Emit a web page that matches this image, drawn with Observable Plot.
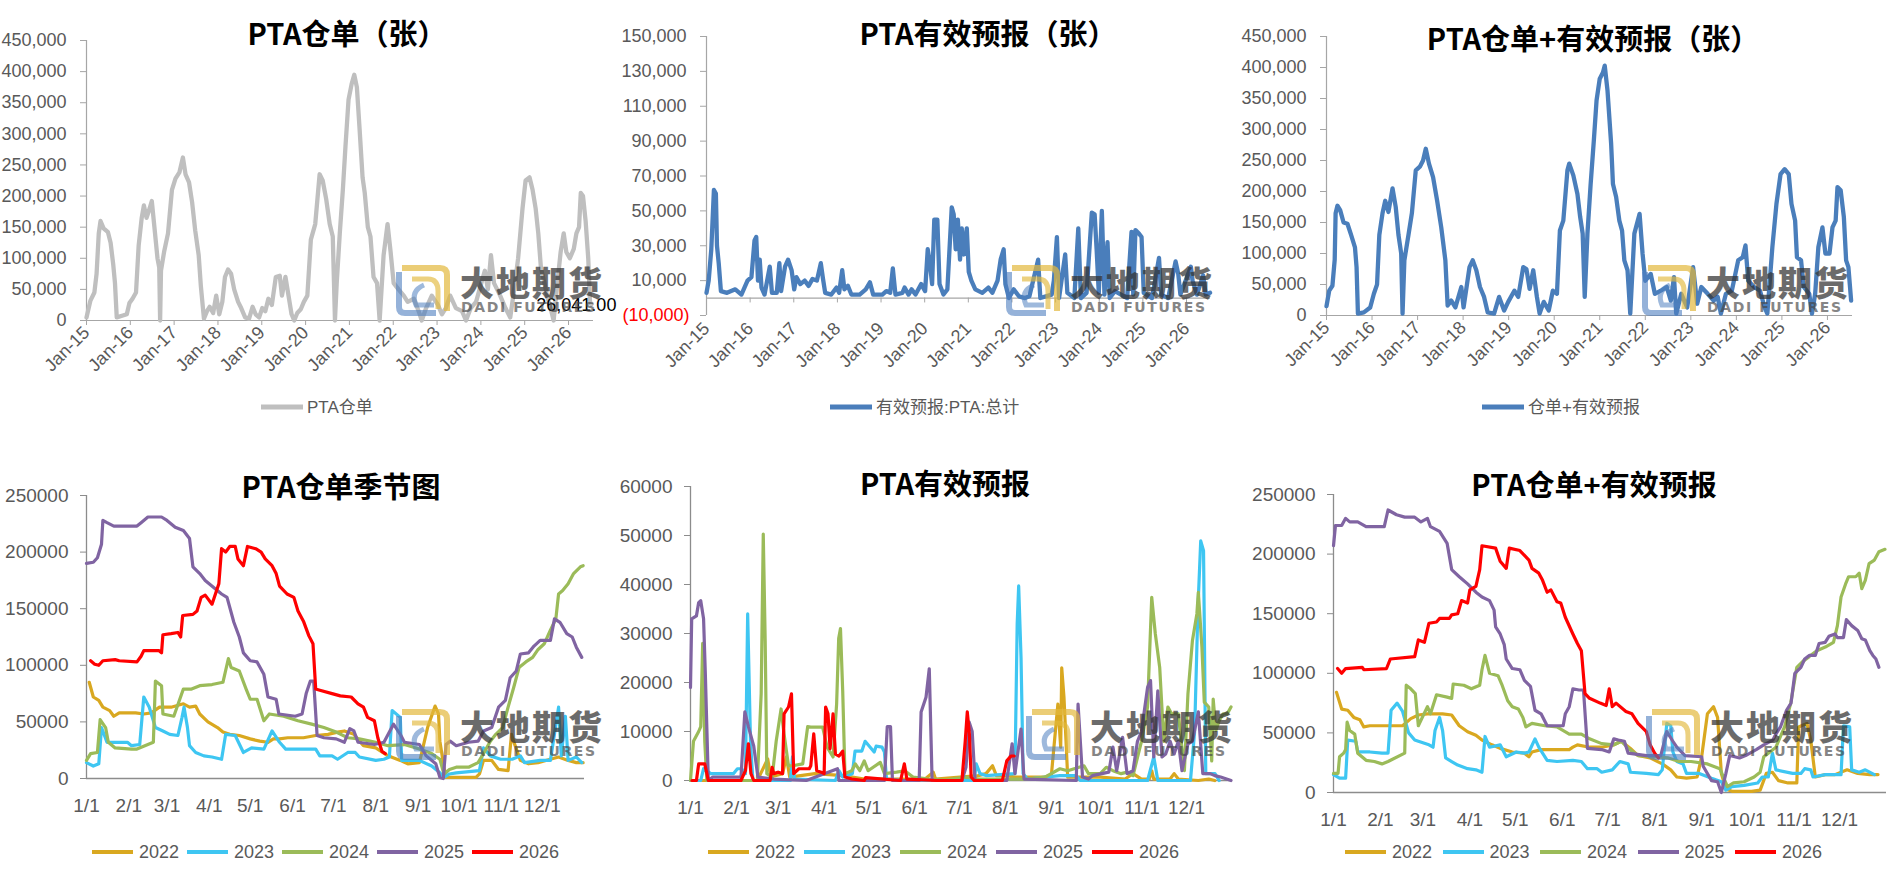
<!DOCTYPE html>
<html><head><meta charset="utf-8">
<script src="https://cdn.jsdelivr.net/npm/d3@7"></script>
<script src="https://cdn.jsdelivr.net/npm/@observablehq/plot@0.6"></script>
<style>
html,body{margin:0;padding:0;background:#fff;width:1887px;height:879px;overflow:hidden;font-family:"Liberation Sans","Noto Sans CJK SC",sans-serif;}
.panel{position:absolute;}
.panel svg{overflow:visible;}
.title{position:absolute;transform:translate(-50%,-50%);font-family:"Noto Sans CJK SC",sans-serif;font-weight:700;color:#000;white-space:nowrap;line-height:1;}
.lg{position:absolute;transform:translateY(-50%);display:flex;align-items:center;white-space:nowrap;color:#595959;font-family:"Liberation Sans","Noto Sans CJK SC",sans-serif;line-height:1;}
.lg span.ln{display:inline-block;}
.wm{position:absolute;pointer-events:none;}
.wm .cn{position:absolute;font-family:"Noto Sans CJK SC",sans-serif;font-weight:900;font-size:34px;letter-spacing:2px;color:#333;opacity:0.72;line-height:1;white-space:nowrap;}
.wm .en{position:absolute;font-family:"DejaVu Sans",sans-serif;font-weight:700;font-size:14px;letter-spacing:1.6px;color:#444;opacity:0.65;line-height:1;white-space:nowrap;}
</style></head><body>
<script>
// ---------------- DATA ----------------
const yearTicks = [2015,2016,2017,2018,2019,2020,2021,2022,2023,2024,2025,2026];
const yearLabels = ["Jan-15","Jan-16","Jan-17","Jan-18","Jan-19","Jan-20","Jan-21","Jan-22","Jan-23","Jan-24","Jan-25","Jan-26"];
const monthDays = [0,31,59,90,120,151,181,212,243,273,304,334];
const monthLabels = ["1/1","2/1","3/1","4/1","5/1","6/1","7/1","8/1","9/1","10/1","11/1","12/1"];
const seasonYears = ["2022","2023","2024","2025","2026"];
const seasonColors = ["#D9A820","#3EC6F2","#9BBB59","#8064A2","#FF0000"];

const wrYTicks = [0,50000,100000,150000,200000,250000,300000,350000,400000,450000];
const fcYTicks = [10000,30000,50000,70000,90000,110000,130000,150000];
const fcNegTicks = [-10000];
const sumYTicks = [0,50000,100000,150000,200000,250000,300000,350000,400000,450000];
const wrSeasonTicks = [0,50000,100000,150000,200000,250000];
const fcSeasonTicks = [0,10000,20000,30000,40000,50000,60000];
const sumSeasonTicks = [0,50000,100000,150000,200000,250000];

// PTA仓单 (history, [decimal year, value])
const wrHist = [[2015.00,5000],[2015.09,32000],[2015.18,45000],[2015.23,75000],[2015.28,140000],[2015.32,160000],[2015.39,148000],[2015.49,142000],[2015.55,125000],[2015.61,90000],[2015.65,60000],[2015.69,5000],[2015.83,8000],[2015.92,10000],[2015.98,28000],[2016.05,35000],[2016.13,45000],[2016.19,120000],[2016.26,165000],[2016.31,185000],[2016.37,165000],[2016.44,180000],[2016.49,192000],[2016.55,150000],[2016.62,100000],[2016.66,85000],[2016.68,0],[2016.70,80000],[2016.77,110000],[2016.86,140000],[2016.95,210000],[2017.03,228000],[2017.12,238000],[2017.20,262000],[2017.26,235000],[2017.34,222000],[2017.41,190000],[2017.48,145000],[2017.56,105000],[2017.61,55000],[2017.68,3000],[2017.75,15000],[2017.81,22000],[2017.89,12000],[2017.96,40000],[2018.03,10000],[2018.10,30000],[2018.16,70000],[2018.23,82000],[2018.30,75000],[2018.37,50000],[2018.46,30000],[2018.53,20000],[2018.62,5000],[2018.71,3000],[2018.79,22000],[2018.86,10000],[2018.94,5000],[2019.01,20000],[2019.08,15000],[2019.15,35000],[2019.23,25000],[2019.32,70000],[2019.41,72000],[2019.46,40000],[2019.54,70000],[2019.61,40000],[2019.68,10000],[2019.74,0],[2019.81,12000],[2019.89,18000],[2019.96,30000],[2020.04,40000],[2020.12,130000],[2020.22,155000],[2020.32,235000],[2020.39,225000],[2020.47,195000],[2020.55,155000],[2020.62,135000],[2020.67,0],[2020.71,60000],[2020.78,140000],[2020.85,210000],[2020.91,280000],[2020.98,355000],[2021.05,380000],[2021.11,395000],[2021.17,375000],[2021.23,310000],[2021.30,230000],[2021.35,205000],[2021.42,150000],[2021.48,135000],[2021.55,70000],[2021.63,60000],[2021.69,0],[2021.78,105000],[2021.87,155000],[2021.94,110000],[2022.01,60000],[2022.12,50000],[2022.24,40000],[2022.33,30000],[2022.47,35000],[2022.58,15000],[2022.65,0],[2022.75,20000],[2022.88,40000],[2023.02,25000],[2023.11,10000],[2023.20,20000],[2023.30,40000],[2023.43,20000],[2023.57,15000],[2023.66,0],[2023.77,20000],[2023.89,30000],[2024.01,60000],[2024.09,80000],[2024.16,50000],[2024.23,105000],[2024.30,60000],[2024.44,40000],[2024.56,20000],[2024.67,5000],[2024.76,50000],[2024.85,100000],[2024.95,180000],[2025.02,225000],[2025.11,230000],[2025.18,210000],[2025.25,180000],[2025.31,140000],[2025.37,85000],[2025.45,60000],[2025.51,40000],[2025.59,20000],[2025.66,0],[2025.73,50000],[2025.82,110000],[2025.89,140000],[2025.95,110000],[2026.03,100000],[2026.12,115000],[2026.18,140000],[2026.24,150000],[2026.28,205000],[2026.33,200000],[2026.39,160000],[2026.45,100000],[2026.49,30000],[2026.52,26041]];

// 有效预报:PTA:总计
const fcHist = [[2015.00,3000],[2015.05,10000],[2015.11,28000],[2015.17,62000],[2015.215,60000],[2015.24,30000],[2015.28,20000],[2015.33,4000],[2015.47,3000],[2015.66,5000],[2015.80,2000],[2015.94,10000],[2016.03,12000],[2016.10,33000],[2016.14,35000],[2016.18,10000],[2016.22,22000],[2016.26,6000],[2016.33,2000],[2016.45,18000],[2016.50,3000],[2016.61,3000],[2016.67,20000],[2016.71,4000],[2016.80,18000],[2016.87,22000],[2016.95,16000],[2017.01,5000],[2017.06,12000],[2017.15,8000],[2017.25,10000],[2017.34,7000],[2017.43,11000],[2017.53,10000],[2017.62,20000],[2017.67,11000],[2017.72,3000],[2017.86,2000],[2017.98,6000],[2018.04,3000],[2018.11,16000],[2018.16,5000],[2018.24,7000],[2018.32,2000],[2018.51,2000],[2018.65,5000],[2018.745,9000],[2018.82,2000],[2019.03,2000],[2019.12,4000],[2019.21,3000],[2019.27,17000],[2019.33,2000],[2019.49,3000],[2019.54,6000],[2019.63,2000],[2019.70,5000],[2019.79,2000],[2019.92,8000],[2020.01,4000],[2020.07,28000],[2020.12,20000],[2020.17,8000],[2020.22,45000],[2020.29,45000],[2020.34,8000],[2020.43,2000],[2020.52,5000],[2020.62,52000],[2020.665,48000],[2020.71,28000],[2020.76,45000],[2020.81,22000],[2020.85,40000],[2020.90,25000],[2020.965,40000],[2021.01,15000],[2021.07,10000],[2021.16,5000],[2021.32,3000],[2021.46,6000],[2021.55,3000],[2021.67,10000],[2021.74,22000],[2021.81,28000],[2021.85,8000],[2021.93,0],[2022.04,5000],[2022.16,1000],[2022.30,0],[2022.40,1000],[2022.60,22000],[2022.65,0],[2022.91,2000],[2022.96,10000],[2023.03,35000],[2023.08,0],[2023.22,25000],[2023.27,3000],[2023.43,0],[2023.52,40000],[2023.58,0],[2023.71,3000],[2023.83,49000],[2023.895,48000],[2023.94,28000],[2023.99,3000],[2024.06,50000],[2024.12,2000],[2024.19,32000],[2024.24,0],[2024.36,4000],[2024.50,2000],[2024.64,0],[2024.74,38000],[2024.78,2000],[2024.83,39000],[2024.91,37000],[2024.97,35000],[2025.02,3000],[2025.21,0],[2025.37,23000],[2025.42,2000],[2025.58,0],[2025.75,21000],[2025.81,14000],[2025.86,2000],[2026.10,18000],[2026.14,10000],[2026.24,2000],[2026.38,13000],[2026.44,2000],[2026.54,3000]];

// 仓单+有效预报
const sumHist = [[2015.00,15000],[2015.06,40000],[2015.13,48000],[2015.18,90000],[2015.20,165000],[2015.24,177000],[2015.30,170000],[2015.375,150000],[2015.46,148000],[2015.54,130000],[2015.625,110000],[2015.66,78000],[2015.69,3000],[2015.82,5000],[2015.96,13000],[2016.04,35000],[2016.11,50000],[2016.16,130000],[2016.23,165000],[2016.29,185000],[2016.36,167000],[2016.45,205000],[2016.52,175000],[2016.58,130000],[2016.64,100000],[2016.67,3000],[2016.71,89000],[2016.80,130000],[2016.875,165000],[2016.96,234000],[2017.05,240000],[2017.12,250000],[2017.18,269000],[2017.25,245000],[2017.34,223000],[2017.43,185000],[2017.52,142000],[2017.61,89000],[2017.66,16000],[2017.74,24000],[2017.83,13000],[2017.96,46000],[2018.01,13000],[2018.14,78000],[2018.21,89000],[2018.29,73000],[2018.37,46000],[2018.46,30000],[2018.54,5000],[2018.68,3000],[2018.79,30000],[2018.90,8000],[2018.99,22000],[2019.125,40000],[2019.21,30000],[2019.32,78000],[2019.39,75000],[2019.46,43000],[2019.54,73000],[2019.62,30000],[2019.68,3000],[2019.77,22000],[2019.88,8000],[2019.97,40000],[2020.06,35000],[2020.125,137000],[2020.20,153000],[2020.29,234000],[2020.33,245000],[2020.42,226000],[2020.51,196000],[2020.57,159000],[2020.625,132000],[2020.67,30000],[2020.73,132000],[2020.80,212000],[2020.87,282000],[2020.93,347000],[2021.00,382000],[2021.07,392000],[2021.11,403000],[2021.17,363000],[2021.25,277000],[2021.29,212000],[2021.36,191000],[2021.43,153000],[2021.49,137000],[2021.54,89000],[2021.61,73000],[2021.67,3000],[2021.76,132000],[2021.875,164000],[2021.94,100000],[2022.00,56000],[2022.12,67000],[2022.21,35000],[2022.34,40000],[2022.47,46000],[2022.56,24000],[2022.63,62000],[2022.68,3000],[2022.79,35000],[2022.92,13000],[2023.05,78000],[2023.14,19000],[2023.23,46000],[2023.37,35000],[2023.50,24000],[2023.59,30000],[2023.66,3000],[2023.77,35000],[2023.90,40000],[2024.04,89000],[2024.14,94000],[2024.20,113000],[2024.26,56000],[2024.39,46000],[2024.52,40000],[2024.62,13000],[2024.68,3000],[2024.79,110000],[2024.88,180000],[2024.97,228000],[2025.06,236000],[2025.15,228000],[2025.21,180000],[2025.29,153000],[2025.33,94000],[2025.42,89000],[2025.48,46000],[2025.60,35000],[2025.66,3000],[2025.73,35000],[2025.80,110000],[2025.89,142000],[2025.955,100000],[2026.045,100000],[2026.11,142000],[2026.18,153000],[2026.22,207000],[2026.29,202000],[2026.36,159000],[2026.41,89000],[2026.46,78000],[2026.52,24000]];

// Seasonal: [day of year, value]
const wr2022 = [[2,85000],[5,72000],[9,69000],[12,63000],[17,60000],[20,55000],[24,58000],[30,58000],[36,58000],[42,57000],[47.5,58000],[53.5,63000],[62,63000],[71,66000],[75.5,63000],[80,64000],[83,57000],[89,50000],[96,45000],[100,41000],[105,39000],[112,38000],[120,35000],[127,33000],[133,32000],[137,35000],[141.5,35000],[147.5,36000],[159,36000],[168,38000],[177,39000],[184,41000],[189,42000],[196,39000],[203,29000],[212,27000],[221,20000],[230,16000],[235.5,13000],[244,14000],[250,45000],[255.5,64000],[258,57000],[259,33000],[262,10000],[263.5,1000],[271,1000],[285.5,1000],[288,4000],[291,16000],[297,16000],[302,8000],[309,7000],[311.5,39000],[313,33000],[318,16000],[324,13000],[331,14000],[340,17000],[346,19000],[353,16000],[359,14000],[364,14000]];
const wr2023 = [[0,14000],[5,11000],[9,13000],[11,45000],[15,32000],[24,32000],[30,32000],[33,29000],[39,30000],[42,72000],[46,63000],[50.5,45000],[56,42000],[61,39000],[67,38000],[70,54000],[71.5,63000],[74,45000],[75.5,29000],[80,23000],[86,20000],[92,19000],[99,17000],[102,39000],[109,38000],[115,23000],[121,27000],[130,26000],[136,42000],[141.5,32000],[146,26000],[159,26000],[168,26000],[171,20000],[180,20000],[184,17000],[191.5,23000],[197,23000],[200,19000],[212,16000],[218,17000],[222,19000],[224,60000],[230,54000],[231,16000],[244,16000],[253,11000],[259,5000],[262,1000],[266,4000],[271,5000],[288,7000],[291,27000],[296,20000],[303.5,17000],[312,17000],[318,20000],[321,14000],[332.5,16000],[340,16000],[346,63000],[348,20000],[351,55000],[353,16000],[359,19000],[363,14000]];
const wr2024 = [[0,16000],[3,22000],[8,23000],[10,52000],[14,45000],[16,32000],[21,27000],[33,26000],[37,26000],[49,32000],[50.5,86000],[55,82000],[56,57000],[64,55000],[71,79000],[77,79000],[83,82000],[92,83000],[100,85000],[104,106000],[106,98000],[112,95000],[117,79000],[120,70000],[125,70000],[130,51000],[134,57000],[144.5,55000],[155,51000],[165,48000],[174,45000],[183,41000],[191.5,36000],[200,35000],[212,32000],[221,29000],[233,30000],[244,26000],[253,22000],[259,17000],[262,4000],[266,8000],[271,10000],[280,10000],[287,14000],[291,22000],[296,33000],[300,39000],[305,45000],[309,63000],[313,80000],[317,98000],[322,103000],[327,107000],[331,114000],[335.5,119000],[340,131000],[344,141000],[346,163000],[349,166000],[353,172000],[357,181000],[362,187000],[364,188000]];
const wr2025 = [[0,190000],[5,191000],[8,195000],[11,207000],[12,228000],[15,226000],[20,223000],[37,223000],[40,226000],[45,231000],[55,231000],[59,228000],[65,222000],[71,219000],[75.5,212000],[78,187000],[83,181000],[87,175000],[93,169000],[99,163000],[103,160000],[108,138000],[112,125000],[115,111000],[120,104000],[125,103000],[130,92000],[133,72000],[139,70000],[141,57000],[153,55000],[158,57000],[161,75000],[164,86000],[166.5,86000],[169,38000],[174,36000],[183,35000],[189,32000],[193,44000],[196,42000],[199,32000],[211,30000],[218,32000],[225,48000],[230,39000],[233,32000],[244,30000],[249,20000],[256,13000],[259,1000],[261.5,0],[263.5,30000],[266.5,33000],[271,29000],[280,32000],[287,33000],[291,42000],[297,45000],[302,63000],[307,69000],[310.5,89000],[315,95000],[318,110000],[324,111000],[328,117000],[332.5,122000],[340,122000],[343,141000],[347,138000],[352,128000],[356,125000],[359,116000],[363,107000]];
const wr2026 = [[3,104000],[6,101000],[9,100000],[12,104000],[21,105000],[24,104000],[37,103000],[40,108000],[42,113000],[53,113000],[55,111000],[56,127000],[62,128000],[67,129000],[69,125000],[70.5,144000],[78,145000],[81,148000],[84,160000],[87,162000],[92,154000],[97,172000],[99,203000],[102,200000],[105,205000],[109,205000],[111,194000],[115,188000],[118,205000],[124,203000],[128,200000],[131,194000],[136,188000],[139,181000],[141.5,170000],[147,163000],[152,160000],[155,148000],[159,139000],[163,126000],[166,119000],[168,79000],[171,78000],[180,75000],[186,73000],[194,72000],[199,66000],[203,63000],[206,54000],[211,51000],[213.5,36000],[216.5,24000],[219,22000]];

const fc2022 = [[0,0],[45,0],[52,4400],[54,700],[62,1400],[64.6,4800],[66.8,700],[83.8,1400],[103,1000],[117,300],[158,300],[163.5,1700],[165,300],[193.8,1000],[199,1400],[203.4,3000],[206,1000],[213,1000],[218.5,700],[237.8,700],[243,1000],[247.4,15600],[249.3,6800],[250,23000],[251.5,17000],[252.9,8000],[254,700],[276,700],[292.7,300],[298,1400],[303.7,300],[309,300],[310.6,2000],[312,300],[323,300],[325.7,1400],[328.5,300],[342,0],[349,300],[353,0]];
const fc2023 = [[0,0],[6.9,0],[8.8,2400],[13.7,1400],[28.9,1400],[31.6,2400],[34.4,2400],[37,1400],[38.5,34000],[40.4,8000],[42,0],[67.3,0],[68.7,4800],[70,300],[97.6,0],[100,2000],[102.5,700],[109,1400],[110.8,6000],[115.4,6000],[117.6,8000],[121,6800],[123.7,5800],[125,7000],[129,6800],[130.6,5800],[132,300],[144,0],[191,0],[192.4,3400],[195,1400],[199,1000],[218.5,1400],[220,32000],[221,39700],[222.6,25000],[224,1400],[226.8,300],[248.8,1000],[259.7,1000],[262.5,0],[307.8,0],[312,4800],[314.7,0],[336.7,0],[339.5,10000],[341.7,35000],[343.6,48900],[345.5,46900],[347,1400],[350.5,1400],[353.2,1400],[356,0]];
const fc2024 = [[0,0],[2,8000],[5.5,10000],[6.9,11000],[8.2,28000],[9.6,8000],[11,0],[45,0],[47.6,17700],[49,50300],[50.3,28500],[51.4,1400],[55,700],[57.7,8000],[61,14600],[63,9500],[66,3000],[68.7,3000],[75.6,3400],[78.9,11000],[81,10900],[83.8,10900],[89,10900],[92,6800],[96,4800],[98.4,15600],[99.8,29000],[101,31000],[102.5,18300],[104,1400],[108.6,2000],[111,3400],[114,2000],[117,4000],[119.6,2000],[127.8,3700],[130.6,1400],[138.8,1700],[144.3,2000],[149.8,700],[160.8,300],[171.8,100],[185.5,700],[193.8,300],[210,300],[226.8,300],[239,700],[240.5,1000],[248.8,2400],[254,2000],[265,3000],[268,1400],[276,1400],[280,2700],[284.5,2000],[290,1400],[294,1700],[298,1000],[303.7,8000],[307.8,15000],[310.6,37400],[313,30000],[316,23000],[318.7,8000],[321.5,15000],[324,13600],[328.5,13600],[332.6,2000],[335,17700],[338,28500],[341,34000],[342,38400],[344.4,27200],[346,16000],[349,15000],[351,4000],[352,16600],[353.8,10200],[356,12200],[358.7,13600],[361.4,13600],[364,15000]];
const fc2025 = [[0,19000],[0.8,33000],[4,33600],[5.5,36300],[6.9,36700],[8.8,33000],[10,21700],[12,0],[15,700],[34,700],[36.6,14000],[39,11000],[42.6,7000],[45.4,700],[56,300],[78,0],[99,2400],[100,0],[130.6,0],[132.5,11000],[134.7,11000],[136,0],[154,0],[155.3,14000],[158.6,17000],[160.8,22800],[162.7,0],[182.8,0],[185.5,2700],[187.7,11900],[189.7,10000],[191.6,0],[213,0],[216.6,7500],[218.5,1400],[222.6,10500],[224.6,300],[259.8,0],[261,15600],[264,700],[268,300],[270.7,1000],[281.7,1700],[284.5,6800],[287,2000],[291,8800],[294,1400],[298,2000],[301,8000],[303.7,10000],[307.8,19000],[309.8,20400],[312,4800],[314.7,18300],[317.5,4800],[320,5400],[323,8000],[325.7,5400],[328.5,8000],[331,2000],[335,7500],[338,8000],[342,14000],[345,1400],[350,1400],[353,1000],[357,700],[364,0]];
const fc2026 = [[1,0],[4,0],[5.5,3400],[9.6,3400],[12,0],[34,0],[37,2000],[39,7500],[40.7,1400],[42.6,0],[53.6,0],[55,2700],[56,1400],[59,1700],[62,1400],[63,13600],[66,15000],[68,17700],[69.5,1400],[73,2400],[80,2400],[81,3000],[83,9500],[85,2000],[88,1700],[90,1400],[91,15000],[92.6,13600],[94,6500],[96,13600],[97.6,5400],[100,5000],[102.5,6000],[104,700],[108.6,300],[117,0],[118,600],[141.5,0],[144,3400],[145.7,300],[166,0],[182.8,0],[185,8000],[186.4,14000],[187.8,9500],[189,700],[191,0],[210,0],[213,4000],[215.8,5000],[218,5000]];

const sum2022 = [[2,84000],[5.4,70000],[9.4,69000],[13.4,63000],[17.4,61000],[20,55000],[24,56000],[35,56000],[45.6,56000],[51,62000],[56,65000],[62,66000],[72,66000],[78,65000],[83,56000],[88.5,51000],[94,48000],[98,44000],[104.6,40000],[110,37000],[118,34000],[126,33000],[129,30000],[131,34000],[137,36000],[147.5,36000],[155.6,36000],[158,38000],[161,40000],[169,38000],[177,38000],[185,40000],[190,43000],[196,37000],[201,31000],[209,29000],[217,24000],[222.6,19000],[226.6,13000],[233,12000],[240,13000],[243,30000],[246.8,66000],[250.8,72000],[253.5,63000],[256,16000],[259,3000],[263,1000],[276,1000],[281.6,2000],[285.7,16000],[289.7,17000],[293.7,10000],[300,8000],[305.8,8000],[307,55000],[312.5,58000],[315,44000],[318,13000],[324.6,15000],[331,15000],[339,19000],[346,16000],[354,15000],[359.4,15000]];
const sum2023 = [[0,15000],[4,12000],[8,12000],[9.4,44000],[14.7,43000],[16,34000],[24,34000],[32,33000],[36,33000],[38,69000],[42,75000],[45.6,68000],[49.6,50000],[53.6,44000],[56,43000],[63,40000],[65.7,38000],[67,52000],[70,63000],[72,52000],[74,29000],[78,26000],[82,23000],[88.5,20000],[94,19000],[98,17000],[100,47000],[103,38000],[110,40000],[114,30000],[120.7,34000],[126,33000],[129,34000],[133,45000],[135.5,38000],[141,27000],[147.5,26000],[158,27000],[163.6,26000],[167.6,20000],[174,20000],[177,17000],[184,19000],[189,26000],[194.5,24000],[196,17000],[206.5,16000],[214.5,15000],[217,19000],[220,58000],[222.6,56000],[224,34000],[226.6,26000],[230.7,24000],[233,16000],[241.4,16000],[249.5,12000],[256,9000],[259,2000],[263,5000],[271,6000],[280,8000],[283,13000],[287,13000],[289.7,33000],[292,19000],[303,16000],[308.5,16000],[311,20000],[315,19000],[316.5,13000],[324.6,15000],[335,15000],[336.6,56000],[340.7,55000],[342,19000],[347,17000],[351,19000],[357,15000]];
const sum2024 = [[0,16000],[3,16000],[4,30000],[6.7,33000],[8,36000],[9,59000],[10.7,52000],[14,49000],[16,33000],[21.5,27000],[27,26000],[32,24000],[36,26000],[47,33000],[48,90000],[51,87000],[54,83000],[56,56000],[62,72000],[64,66000],[68,82000],[75,80000],[78,79000],[79,91000],[86,90000],[91,87000],[96.5,90000],[98,103000],[100,115000],[103,100000],[108.6,98000],[111,91000],[115,77000],[118,72000],[122,70000],[125,63000],[127,55000],[131,58000],[139.5,56000],[147.5,55000],[155.6,49000],[163.6,49000],[169,45000],[177,41000],[185,40000],[190,43000],[194.5,37000],[201,31000],[212,30000],[221,29000],[228,26000],[236,26000],[246.8,24000],[255,20000],[260,5000],[264,8000],[271,9000],[277.6,13000],[281.6,17000],[284,30000],[287,33000],[292,38000],[297.7,55000],[301.8,75000],[305.8,105000],[309.8,110000],[314,114000],[319,119000],[324.6,122000],[330,126000],[332.6,140000],[335,164000],[338,175000],[340,181000],[344.7,181000],[347,184000],[348.7,171000],[351,178000],[353.5,192000],[357,195000],[360,202000],[364,204000]];
const sum2025 = [[0,207000],[1.3,224000],[5.4,224000],[8,230000],[10.7,227000],[16,227000],[21.5,223000],[33.5,223000],[36,237000],[41.6,233000],[47,231000],[53.6,231000],[57.7,227000],[62,230000],[64,223000],[70,219000],[75,209000],[78,187000],[83,181000],[88.5,175000],[94,168000],[98,164000],[103,161000],[106,153000],[107,139000],[110,133000],[112.7,124000],[114,112000],[118,104000],[123,103000],[126,94000],[130,89000],[133,69000],[137,66000],[141,56000],[151.6,56000],[153,66000],[155.6,72000],[158,87000],[162,86000],[165,86000],[167.6,37000],[177,36000],[182,34000],[185,45000],[188,44000],[192,43000],[194.5,33000],[206.5,31000],[216,31000],[220,51000],[224,43000],[226.6,38000],[232,31000],[243,30000],[244,22000],[249.5,10000],[253.5,9000],[256,0],[259,16000],[261.5,31000],[268,29000],[272,31000],[279,36000],[284,40000],[290,44000],[292,49000],[295,55000],[299,69000],[302,75000],[304.5,100000],[308.5,105000],[311,112000],[314,115000],[318,115000],[320.5,125000],[324.5,126000],[327,131000],[331,133000],[332.6,130000],[336.6,130000],[338.5,145000],[342,140000],[346,136000],[348.7,129000],[351,128000],[354,119000],[356,115000],[358,112000],[360,105000]];
const sum2026 = [[2.7,104000],[5.4,100000],[8,104000],[19,105000],[20,103000],[35,104000],[37.5,112000],[53.6,114000],[56,128000],[60,126000],[63,142000],[68,143000],[70,146000],[76.5,146000],[78,149000],[82,150000],[84.5,161000],[88.5,159000],[90,170000],[94,173000],[96.5,187000],[98,207000],[107,205000],[110,194000],[114,188000],[116,205000],[123,203000],[129,195000],[131,188000],[135.5,184000],[138,178000],[141,168000],[143.5,170000],[147.5,160000],[150,159000],[153,147000],[158,133000],[161,125000],[163.6,119000],[166,83000],[169,79000],[176,75000],[180,73000],[182,87000],[184,72000],[186.5,75000],[193,68000],[197,66000],[201,58000],[206.5,51000],[209,40000],[212,33000],[214.5,29000]];

// ---------------- RENDER ----------------
const axisGray = "#A6A6A6";
const labelGray = "#595959";
const FONT = '"Liberation Sans","Noto Sans CJK SC",sans-serif';
const fmtComma = d3.format(",");
const fmtNeg = d => "(" + fmtComma(-d) + ")";
const yearLabel = d => yearLabels[yearTicks.indexOf(d)];
const monthLabel = d => monthLabels[monthDays.indexOf(d)];
const X = d => d[0], Y = d => d[1];

function place(node, left, top) {
  const div = document.createElement("div");
  div.className = "panel";
  div.style.left = left + "px"; div.style.top = top + "px";
  div.appendChild(node);
  document.body.appendChild(div);
}
function title(text, cx, cy, size) {
  const d = document.createElement("div");
  d.className = "title"; d.textContent = text;
  d.style.left = cx + "px"; d.style.top = cy + "px"; d.style.fontSize = size + "px";
  document.body.appendChild(d);
}
function legendItem(text, color, left, cy, lineW, lineH, gap, size) {
  const d = document.createElement("div");
  d.className = "lg";
  d.style.left = left + "px"; d.style.top = cy + "px"; d.style.fontSize = size + "px";
  const ln = document.createElement("span");
  ln.className = "ln";
  ln.style.width = lineW + "px"; ln.style.height = lineH + "px"; ln.style.background = color;
  ln.style.marginRight = gap + "px";
  d.appendChild(ln);
  d.appendChild(document.createTextNode(text));
  document.body.appendChild(d);
}
function watermark(x, y) {
  const w = document.createElement("div");
  w.className = "wm"; w.style.left = x + "px"; w.style.top = y + "px";
  w.innerHTML = `<svg width="56" height="54" viewBox="0 0 56 54" style="position:absolute;left:0;top:0;overflow:visible">
    <path d="M6,5 H44 Q51,5 51,12 V48" fill="none" stroke="#E2B83C" stroke-width="6" opacity="0.7"/>
    <path d="M3,9 V44 Q3,50 9,50 H40" fill="none" stroke="#4F7FC0" stroke-width="6" opacity="0.6"/>
    <path d="M16,16 H32 Q42,16 42,28 V46" fill="none" stroke="#E2B83C" stroke-width="5" opacity="0.65"/>
    <path d="M28,22 Q14,28 20,42 H38" fill="none" stroke="#4F7FC0" stroke-width="5" opacity="0.55"/>
  </svg>
  <div class="cn" style="left:64px;top:2px">大地期货</div>
  <div class="en" style="left:65px;top:37px">DADI FUTURES</div>`;
  document.body.appendChild(w);
}

const baseStyle = {fontFamily: FONT, fontSize: "18px", color: labelGray, background: "transparent", overflow: "visible"};

// Panel 1: PTA仓单
place(Plot.plot({
  width: 620, height: 440, marginLeft: 86, marginRight: 27, marginTop: 40, marginBottom: 120,
  style: baseStyle,
  x: {type: "linear", domain: [2015, 2026.57]},
  y: {domain: [0, 450000]},
  marks: [
    Plot.ruleX([2015], {stroke: axisGray, strokeWidth: 1.2}),
    Plot.ruleY([0], {stroke: axisGray, strokeWidth: 1.2}),
    Plot.axisY({ticks: wrYTicks, tickFormat: fmtComma, tickSize: 6, tickPadding: 14, stroke: axisGray, fill: labelGray, fontSize: 18}),
    Plot.axisX({ticks: yearTicks, tickFormat: yearLabel, tickRotate: -45, tickSize: 5, tickPadding: 4, stroke: axisGray, fill: labelGray, fontSize: 18}),
    Plot.line(wrHist, {x: X, y: Y, stroke: "#BFBFBF", strokeWidth: 4.3, strokeLinejoin: "round"}),
    Plot.text([wrHist[wrHist.length - 1]], {x: X, y: Y, text: d => d3.format(",.2f")(d[1]), textAnchor: "start", dx: -55, dy: 1, fill: "#000", fontSize: 18})
  ]
}), 0, 0);

// Panel 2: PTA有效预报
place(Plot.plot({
  width: 620, height: 440, marginLeft: 86, marginRight: 30, marginTop: 36, marginBottom: 125,
  style: baseStyle,
  x: {type: "linear", domain: [2015, 2026.55]},
  y: {domain: [-10000, 150000]},
  marks: [
    Plot.ruleX([2015], {stroke: axisGray, strokeWidth: 1.2}),
    Plot.ruleY([0], {stroke: axisGray, strokeWidth: 1.2}),
    Plot.ruleX(yearTicks, {x: d => d, y1: 0, y2: -2800, stroke: axisGray}),
    Plot.axisY({ticks: fcYTicks, tickFormat: fmtComma, tickSize: 6, tickPadding: 14, stroke: axisGray, fill: labelGray, fontSize: 18}),
    Plot.axisY({ticks: fcNegTicks, tickFormat: fmtNeg, tickSize: 6, tickPadding: 11, stroke: axisGray, fill: "#FF0000", fontSize: 18}),
    Plot.axisX({ticks: yearTicks, tickFormat: yearLabel, tickRotate: -45, tickSize: 0, tickPadding: 10, fill: labelGray, fontSize: 18}),
    Plot.line(fcHist, {x: X, y: Y, stroke: "#4A7EBB", strokeWidth: 4.3, strokeLinejoin: "round"})
  ]
}), 620, 0);

// Panel 3: PTA仓单+有效预报
place(Plot.plot({
  width: 647, height: 440, marginLeft: 86, marginRight: 35, marginTop: 36, marginBottom: 125,
  style: baseStyle,
  x: {type: "linear", domain: [2015, 2026.55]},
  y: {domain: [0, 450000]},
  marks: [
    Plot.ruleX([2015], {stroke: axisGray, strokeWidth: 1.2}),
    Plot.ruleY([0], {stroke: axisGray, strokeWidth: 1.2}),
    Plot.axisY({ticks: sumYTicks, tickFormat: fmtComma, tickSize: 6, tickPadding: 14, stroke: axisGray, fill: labelGray, fontSize: 18}),
    Plot.axisX({ticks: yearTicks, tickFormat: yearLabel, tickRotate: -45, tickSize: 5, tickPadding: 4, stroke: axisGray, fill: labelGray, fontSize: 18}),
    Plot.line(sumHist, {x: X, y: Y, stroke: "#4A7EBB", strokeWidth: 4.3, strokeLinejoin: "round"})
  ]
}), 1240, 0);

// Seasonal panels
function seasonal(series, yDomain, yTicks, opts) {
  return Plot.plot({
    width: opts.width, height: 439, marginLeft: opts.ml, marginRight: opts.mr, marginTop: opts.mt, marginBottom: opts.mb,
    style: {...baseStyle, fontSize: "19px"},
    x: {type: "linear", domain: [0, 365]},
    y: {domain: yDomain},
    marks: [
      Plot.ruleX([0], {stroke: "#8C8C8C", strokeWidth: 1.3}),
      Plot.ruleY([0], {stroke: "#8C8C8C", strokeWidth: 1.3}),
      Plot.axisY({ticks: yTicks, tickFormat: d => String(d), tickSize: 6, tickPadding: 12, stroke: "#8C8C8C", fill: labelGray, fontSize: 19}),
      Plot.axisX({ticks: monthDays, tickFormat: monthLabel, tickSize: 0, tickPadding: 20, fill: labelGray, fontSize: 19}),
      ...series.map((s, i) => Plot.line(s, {x: X, y: Y, stroke: seasonColors[i], strokeWidth: 3.2, strokeLinejoin: "round"}))
    ]
  });
}
place(seasonal([wr2022, wr2023, wr2024, wr2025, wr2026], [0, 250000], wrSeasonTicks, {width: 620, ml: 86, mr: 36, mt: 55, mb: 101}), 0, 440);
place(seasonal([fc2022, fc2023, fc2024, fc2025, fc2026], [0, 60000], fcSeasonTicks, {width: 620, ml: 70, mr: 8, mt: 46, mb: 99}), 620, 440);
place(seasonal([sum2022, sum2023, sum2024, sum2025, sum2026], [0, 250000], sumSeasonTicks, {width: 647, ml: 93, mr: 1, mt: 54, mb: 87}), 1240, 440);

// Titles
title("PTA仓单（张）", 347, 32, 29);
title("PTA有效预报（张）", 988, 32, 29);
title("PTA仓单+有效预报（张）", 1593, 37, 29);
title("PTA仓单季节图", 341, 485, 29);
title("PTA有效预报", 945, 482, 29);
title("PTA仓单+有效预报", 1594, 483, 29);

// Top legends
legendItem("PTA仓单", "#BFBFBF", 261, 407, 42, 5, 4, 17);
legendItem("有效预报:PTA:总计", "#4A7EBB", 830, 407, 42, 5, 4, 17);
legendItem("仓单+有效预报", "#4A7EBB", 1482, 407, 42, 5, 4, 17);

// Bottom legends
[[92, 95], [708, 96], [1345, 97.5]].forEach(([x0, pitch]) => {
  seasonYears.forEach((yr, i) => legendItem(yr, seasonColors[i], x0 + i * pitch, 852, 41, 4, 6, 18));
});

// Watermarks
[[396, 263], [1006, 263], [1642, 263], [396, 707], [1026, 707], [1646, 707]].forEach(([x, y]) => watermark(x, y));
</script>
</body></html>
